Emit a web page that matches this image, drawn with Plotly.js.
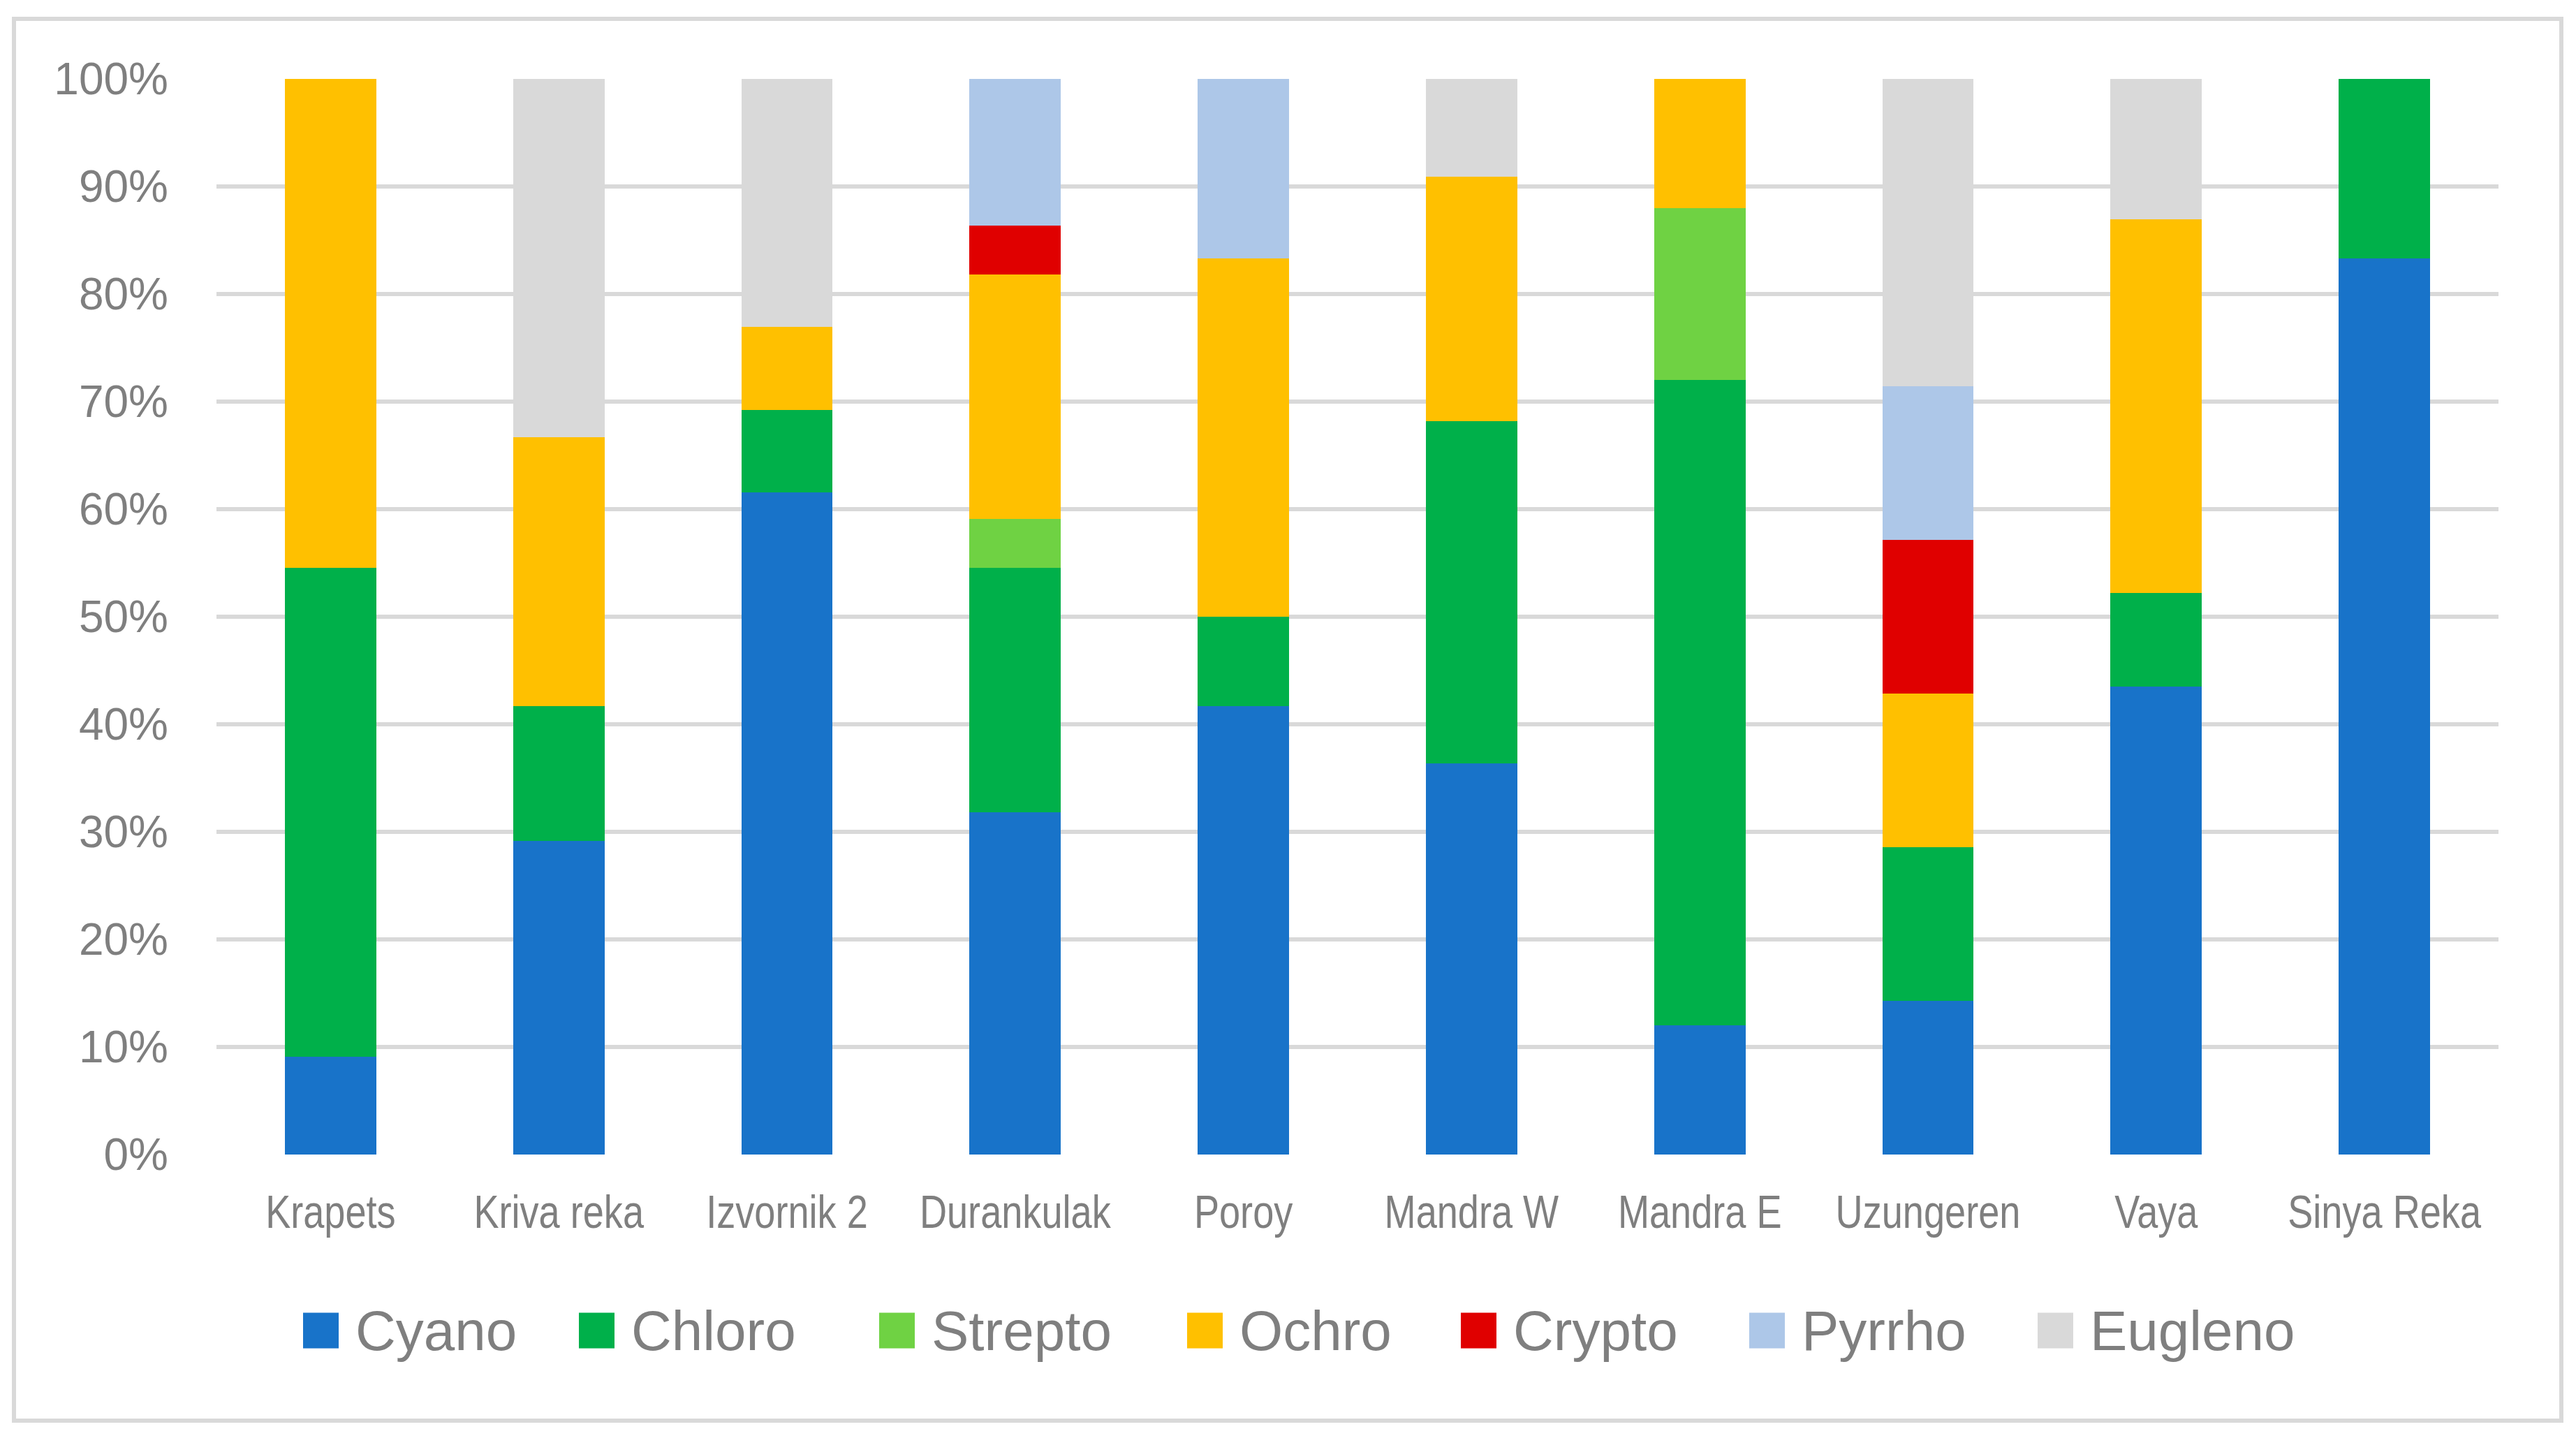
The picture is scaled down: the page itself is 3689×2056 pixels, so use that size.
<!DOCTYPE html>
<html>
<head>
<meta charset="utf-8">
<script src="https://cdn.plot.ly/plotly-3.0.1.min.js"></script>
<style>html,body{margin:0;padding:0;background:#fff;}#chart{width:3689px;height:2056px;}</style>
</head>
<body>
<div id="chart"></div>
<script>
// ---- data ----
const categories = ["Krapets","Kriva reka","Izvornik 2","Durankulak","Poroy","Mandra W","Mandra E","Uzungeren","Vaya","Sinya Reka"];
const seriesNames = ["Cyano","Chloro","Strepto","Ochro","Crypto","Pyrrho","Eugleno"];
const cyano   = [9.09, 29.17, 61.54, 31.82, 41.67, 36.36, 12.00, 14.29, 43.48, 83.33];
const chloro  = [45.45, 12.50, 7.69, 22.73, 8.33, 31.82, 60.00, 14.29, 8.70, 16.67];
const strepto = [0, 0, 0, 4.55, 0, 0, 16.00, 0, 0, 0];
const ochro   = [45.45, 25.00, 7.69, 22.73, 33.33, 22.73, 12.00, 14.29, 34.78, 0];
const crypto  = [0, 0, 0, 4.55, 0, 0, 0, 14.29, 0, 0];
const pyrrho  = [0, 0, 0, 13.64, 16.67, 0, 0, 14.29, 0, 0];
const eugleno = [0, 33.33, 23.08, 0, 0, 9.09, 0, 28.57, 13.04, 0];
const yTicks = [0,10,20,30,40,50,60,70,80,90,100];

// ---- styles ----
const colors = ["#1873c9","#00b04a","#6fd243","#ffc000","#e00000","#adc7e8","#d9d9d9"];
const values = [cyano, chloro, strepto, ochro, crypto, pyrrho, eugleno];
const gray = "#7f7f7f";

const W = 3689, H = 2056;
const M = {l:310, r:111, t:113, b:403};
const PW = W - M.l - M.r, PH = H - M.t - M.b;
const px = x => (x - M.l) / PW;
const py = y => (H - M.b - y) / PH;

const traces = seriesNames.map((n,i) => ({
  type:'bar', name:n, x:categories, y:values[i],
  marker:{color:colors[i], line:{width:0}},
  showlegend:false, hoverinfo:'skip'
}));

// manual legend (large squares like the original)
const legendLeft = [434, 829, 1259, 1700, 2092, 2505, 2918];
const legY = 1905, sq = 51;
const shapes = [];
const annotations = [];
seriesNames.forEach((n,i) => {
  shapes.push({type:'rect', xref:'paper', yref:'paper',
    x0:px(legendLeft[i]), x1:px(legendLeft[i]+sq),
    y0:py(legY+sq/2), y1:py(legY-sq/2),
    fillcolor:colors[i], line:{width:0}});
  annotations.push({xref:'paper', yref:'paper', x:px(legendLeft[i]+sq+22), y:py(legY),
    xanchor:'left', yanchor:'middle', showarrow:false, text:n,
    font:{family:'"Liberation Sans", Arial, sans-serif', size:80, color:gray}});
});
// outer border
shapes.push({type:'rect', xref:'paper', yref:'paper',
  x0:px(20), x1:px(3668), y0:py(2034), y1:py(27),
  line:{color:'#d9d9d9', width:6}, fillcolor:'rgba(0,0,0,0)', layer:'below'});

const layout = {
  width:W, height:H,
  margin:M,
  paper_bgcolor:'#fff', plot_bgcolor:'#fff',
  barmode:'stack', bargap:0.6,
  showlegend:false,
  xaxis:{type:'category', showgrid:false, zeroline:false, showline:false, ticks:'',
    tickfont:{family:'"Liberation Sans", Arial, sans-serif', size:66, color:gray},
    ticklabelstandoff:38},
  yaxis:{range:[0,100], tickvals:yTicks, ticktext:yTicks.map(v=>v+'%'),
    showgrid:true, gridcolor:'#d9d9d9', gridwidth:6, zeroline:false, showline:false, ticks:'',
    tickfont:{family:'"Liberation Sans", Arial, sans-serif', size:64, color:gray},
    ticklabelstandoff:68},
  shapes:shapes, annotations:annotations
};

Plotly.newPlot('chart', traces, layout, {staticPlot:true, displayModeBar:false}).then(gd => {
  // the original category labels use a condensed face: compress them horizontally
  gd.querySelectorAll('.xtick text').forEach(t => {
    const L = t.getComputedTextLength();
    t.setAttribute('textLength', (L * 0.82).toFixed(1));
    t.setAttribute('lengthAdjust', 'spacingAndGlyphs');
  });
});
</script>
</body>
</html>
